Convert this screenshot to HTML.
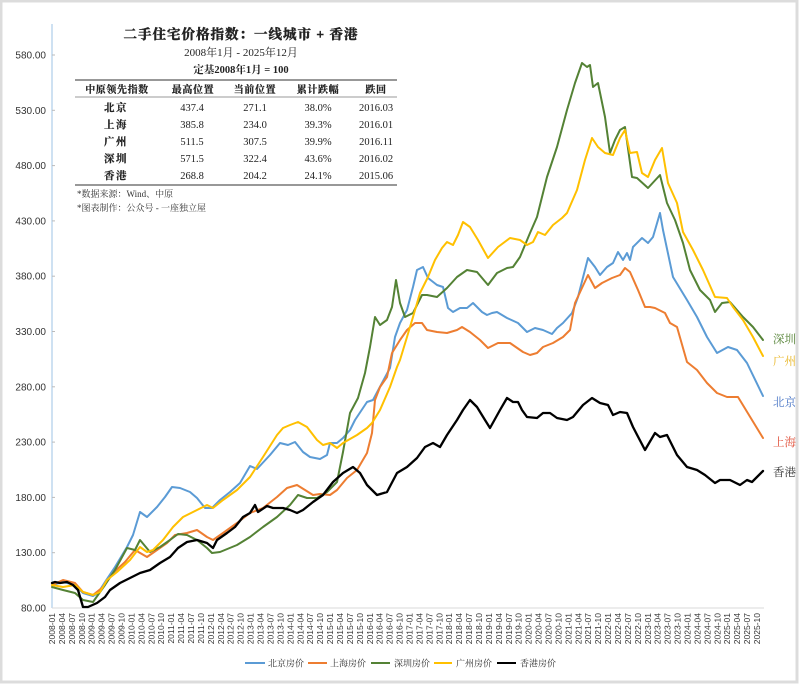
<!DOCTYPE html>
<html><head><meta charset="utf-8"><style>
html,body{margin:0;padding:0;background:#fff;}
svg{display:block;}
.cn{font-family:"Liberation Serif","Noto Serif CJK SC",serif;}
.ax{font-family:"Liberation Sans",sans-serif;font-size:10px;fill:#333;}
.xl{font-family:"Liberation Sans",sans-serif;font-size:8.5px;fill:#333;}
</style></head><body>
<svg width="799" height="684" viewBox="0 0 799 684" xmlns="http://www.w3.org/2000/svg">
<rect x="0" y="0" width="799" height="684" fill="#fff"/>
<rect x="1" y="1" width="796" height="681" fill="none" stroke="#dcdcdc" stroke-width="3"/>

<!-- y axis -->
<line x1="52" y1="24" x2="52" y2="608" stroke="#9dc3e6" stroke-width="1"/>
<g stroke="#bbb" stroke-width="1">
<line x1="52" y1="55" x2="55" y2="55"/><line x1="52" y1="110.3" x2="55" y2="110.3"/><line x1="52" y1="165.6" x2="55" y2="165.6"/><line x1="52" y1="220.9" x2="55" y2="220.9"/><line x1="52" y1="276.2" x2="55" y2="276.2"/><line x1="52" y1="331.5" x2="55" y2="331.5"/><line x1="52" y1="386.8" x2="55" y2="386.8"/><line x1="52" y1="442.1" x2="55" y2="442.1"/><line x1="52" y1="497.4" x2="55" y2="497.4"/><line x1="52" y1="552.7" x2="55" y2="552.7"/>
</g>
<g class="ax" text-anchor="end">
<text x="46" y="58.5">580.00</text>
<text x="46" y="113.8">530.00</text>
<text x="46" y="169.1">480.00</text>
<text x="46" y="224.4">430.00</text>
<text x="46" y="279.7">380.00</text>
<text x="46" y="335">330.00</text>
<text x="46" y="390.3">280.00</text>
<text x="46" y="445.6">230.00</text>
<text x="46" y="500.9">180.00</text>
<text x="46" y="556.2">130.00</text>
<text x="46" y="611.5">80.00</text>
</g>

<!-- x axis -->
<line x1="52" y1="608" x2="764" y2="608" stroke="#d9d9d9" stroke-width="1"/>

<g class="xl" text-anchor="end">
<text transform="translate(55,613) rotate(-90)">2008-01</text>
<text transform="translate(64.9,613) rotate(-90)">2008-04</text>
<text transform="translate(74.9,613) rotate(-90)">2008-07</text>
<text transform="translate(84.8,613) rotate(-90)">2008-10</text>
<text transform="translate(94.7,613) rotate(-90)">2009-01</text>
<text transform="translate(104.7,613) rotate(-90)">2009-04</text>
<text transform="translate(114.6,613) rotate(-90)">2009-07</text>
<text transform="translate(124.5,613) rotate(-90)">2009-10</text>
<text transform="translate(134.4,613) rotate(-90)">2010-01</text>
<text transform="translate(144.4,613) rotate(-90)">2010-04</text>
<text transform="translate(154.3,613) rotate(-90)">2010-07</text>
<text transform="translate(164.2,613) rotate(-90)">2010-10</text>
<text transform="translate(174.2,613) rotate(-90)">2011-01</text>
<text transform="translate(184.1,613) rotate(-90)">2011-04</text>
<text transform="translate(194,613) rotate(-90)">2011-07</text>
<text transform="translate(204,613) rotate(-90)">2011-10</text>
<text transform="translate(213.9,613) rotate(-90)">2012-01</text>
<text transform="translate(223.8,613) rotate(-90)">2012-04</text>
<text transform="translate(233.7,613) rotate(-90)">2012-07</text>
<text transform="translate(243.7,613) rotate(-90)">2012-10</text>
<text transform="translate(253.6,613) rotate(-90)">2013-01</text>
<text transform="translate(263.5,613) rotate(-90)">2013-04</text>
<text transform="translate(273.5,613) rotate(-90)">2013-07</text>
<text transform="translate(283.4,613) rotate(-90)">2013-10</text>
<text transform="translate(293.3,613) rotate(-90)">2014-01</text>
<text transform="translate(303.3,613) rotate(-90)">2014-04</text>
<text transform="translate(313.2,613) rotate(-90)">2014-07</text>
<text transform="translate(323.1,613) rotate(-90)">2014-10</text>
<text transform="translate(333,613) rotate(-90)">2015-01</text>
<text transform="translate(343,613) rotate(-90)">2015-04</text>
<text transform="translate(352.9,613) rotate(-90)">2015-07</text>
<text transform="translate(362.8,613) rotate(-90)">2015-10</text>
<text transform="translate(372.8,613) rotate(-90)">2016-01</text>
<text transform="translate(382.7,613) rotate(-90)">2016-04</text>
<text transform="translate(392.6,613) rotate(-90)">2016-07</text>
<text transform="translate(402.6,613) rotate(-90)">2016-10</text>
<text transform="translate(412.5,613) rotate(-90)">2017-01</text>
<text transform="translate(422.4,613) rotate(-90)">2017-04</text>
<text transform="translate(432.3,613) rotate(-90)">2017-07</text>
<text transform="translate(442.3,613) rotate(-90)">2017-10</text>
<text transform="translate(452.2,613) rotate(-90)">2018-01</text>
<text transform="translate(462.1,613) rotate(-90)">2018-04</text>
<text transform="translate(472.1,613) rotate(-90)">2018-07</text>
<text transform="translate(482,613) rotate(-90)">2018-10</text>
<text transform="translate(491.9,613) rotate(-90)">2019-01</text>
<text transform="translate(501.9,613) rotate(-90)">2019-04</text>
<text transform="translate(511.8,613) rotate(-90)">2019-07</text>
<text transform="translate(521.7,613) rotate(-90)">2019-10</text>
<text transform="translate(531.6,613) rotate(-90)">2020-01</text>
<text transform="translate(541.6,613) rotate(-90)">2020-04</text>
<text transform="translate(551.5,613) rotate(-90)">2020-07</text>
<text transform="translate(561.4,613) rotate(-90)">2020-10</text>
<text transform="translate(571.4,613) rotate(-90)">2021-01</text>
<text transform="translate(581.3,613) rotate(-90)">2021-04</text>
<text transform="translate(591.2,613) rotate(-90)">2021-07</text>
<text transform="translate(601.2,613) rotate(-90)">2021-10</text>
<text transform="translate(611.1,613) rotate(-90)">2022-01</text>
<text transform="translate(621,613) rotate(-90)">2022-04</text>
<text transform="translate(630.9,613) rotate(-90)">2022-07</text>
<text transform="translate(640.9,613) rotate(-90)">2022-10</text>
<text transform="translate(650.8,613) rotate(-90)">2023-01</text>
<text transform="translate(660.7,613) rotate(-90)">2023-04</text>
<text transform="translate(670.7,613) rotate(-90)">2023-07</text>
<text transform="translate(680.6,613) rotate(-90)">2023-10</text>
<text transform="translate(690.5,613) rotate(-90)">2024-01</text>
<text transform="translate(700.5,613) rotate(-90)">2024-04</text>
<text transform="translate(710.4,613) rotate(-90)">2024-07</text>
<text transform="translate(720.3,613) rotate(-90)">2024-10</text>
<text transform="translate(730.2,613) rotate(-90)">2025-01</text>
<text transform="translate(740.2,613) rotate(-90)">2025-04</text>
<text transform="translate(750.1,613) rotate(-90)">2025-07</text>
<text transform="translate(760,613) rotate(-90)">2025-10</text>
</g>

<!-- series -->
<g fill="none" stroke-linejoin="round" stroke-linecap="round">
<polyline stroke="#5b9bd5" stroke-width="2" points="52,585 63,582 75,585 83,593 93,596 98,593 105,582 115,567 127,547 133,535 140,512 147,517 157,507 165,497 172,487 180,488 190,492 197,498 205,508 212,508 220,500 230,492 240,483 250,466 257,469 270,455 280,443 288,445 295,442 303,452 310,457 320,459 327,455 330,443 337,443 343,438 350,430 355,420 367,402 373,400 382,383 390,368 395,337 400,323 407,310 413,287 417,270 423,267 428,278 437,285 443,287 448,308 453,312 460,308 467,308 473,303 482,312 487,315 492,313 497,312 507,318 518,323 527,332 535,328 543,330 552,334 557,328 563,323 572,313 578,297 588,258 595,267 600,275 607,267 613,263 618,252 623,260 627,253 630,260 633,247 642,238 648,243 653,237 660,213 663,230 673,277 687,300 697,317 707,337 717,353 728,347 737,350 747,363 763,396"/>
<polyline stroke="#ed7d31" stroke-width="2" points="52,585 63,580 75,583 83,592 93,595 103,587 113,573 125,562 135,550 147,557 157,550 167,543 175,535 187,533 197,530 207,537 213,540 223,533 237,523 250,513 263,508 277,497 287,488 297,485 305,490 313,495 320,494 330,495 337,490 347,478 357,470 367,453 372,433 375,400 380,387 387,377 392,353 400,340 407,330 415,323 422,323 427,330 437,332 447,333 457,330 462,327 470,332 480,340 488,348 498,343 510,343 523,352 530,355 537,353 543,347 553,343 563,337 570,330 575,303 588,275 595,288 602,283 612,278 620,275 625,268 630,272 638,290 645,307 650,307 655,308 665,313 670,323 677,327 687,362 697,370 707,383 717,393 727,397 733,397 738,397 763,438"/>
<polyline stroke="#548235" stroke-width="2" points="52,587 63,590 75,593 83,600 93,602 105,585 115,570 127,548 135,550 140,540 150,552 160,547 170,540 178,534 187,535 197,540 207,548 212,553 220,552 237,545 250,537 263,527 277,517 290,505 298,495 307,498 317,498 327,492 337,482 343,452 350,413 358,398 365,373 370,347 375,317 380,325 387,320 392,307 396,280 400,303 405,317 413,313 422,295 427,295 437,297 447,288 457,277 467,270 477,272 488,285 497,273 507,268 513,267 520,257 530,233 537,217 547,177 557,147 567,110 575,83 582,63 587,67 590,65 593,87 598,83 605,117 610,153 615,140 620,130 625,127 632,177 637,178 648,188 660,175 667,203 675,220 683,243 690,270 700,290 710,300 715,312 722,303 730,302 743,317 753,327 763,340"/>
<polyline stroke="#ffc000" stroke-width="2" points="52,585 63,587 75,585 83,592 93,595 100,592 107,580 117,572 130,560 140,547 147,552 153,550 163,540 173,527 183,517 197,510 207,505 213,508 223,500 237,490 250,477 263,457 277,435 283,428 290,425 298,422 307,427 317,440 323,445 330,443 337,448 343,443 357,435 367,428 372,423 380,410 390,387 397,367 400,360 407,337 413,317 420,293 428,277 435,260 442,248 447,242 453,245 458,235 463,222 470,227 478,240 488,258 498,247 510,238 520,240 527,245 533,242 538,232 545,235 553,225 562,218 567,213 577,190 585,160 592,138 598,147 605,153 613,155 620,138 625,130 630,153 637,152 642,173 648,177 655,160 662,148 668,183 677,203 683,232 693,250 703,270 715,297 727,298 733,307 743,320 753,337 763,356"/>
<polyline stroke="#000" stroke-width="2.3" points="52,583 55,582 60,583 67,582 73,585 78,590 83,607 88,607 97,603 105,597 110,590 120,583 130,578 140,573 150,570 160,563 170,557 178,548 187,542 197,540 207,543 213,548 217,540 227,533 235,527 243,517 250,513 255,505 258,512 267,506 273,508 283,508 290,510 297,513 303,510 313,502 323,495 333,482 343,473 353,467 360,473 367,485 377,495 387,492 397,473 407,467 417,458 425,447 433,443 440,447 447,435 457,420 463,410 470,400 477,407 485,420 490,428 500,410 507,398 513,402 518,402 522,410 527,417 537,418 543,413 550,413 557,418 567,420 573,417 583,405 592,398 600,403 608,405 613,415 620,412 627,413 633,427 645,450 655,433 660,437 667,435 677,455 687,467 697,470 705,475 715,483 720,480 730,480 740,485 747,480 752,482 763,471"/>
</g>

<!-- end labels -->
<g class="cn" font-size="11.5">
<text x="773" y="343" fill="#548235">深圳</text>
<text x="773" y="365" fill="#e8b420">广州</text>
<text x="773" y="406" fill="#4472c4">北京</text>
<text x="773" y="446" fill="#e0503a">上海</text>
<text x="773" y="476" fill="#333">香港</text>
</g>

<!-- title + table -->
<g class="cn" fill="#222" text-anchor="middle">
<text x="241" y="39" font-size="13.5" font-weight="bold" letter-spacing="1" stroke="#222" stroke-width="0.45">二手住宅价格指数：一线城市 + 香港</text>
<text x="241" y="56" font-size="11">2008年1月 - 2025年12月</text>
<text x="241" y="73" font-size="10.5" font-weight="bold">定基2008年1月 = 100</text>
</g>
<line x1="75" y1="80" x2="397" y2="80" stroke="#777" stroke-width="1.5"/>
<line x1="75" y1="97" x2="397" y2="97" stroke="#999" stroke-width="1"/>
<line x1="75" y1="185" x2="397" y2="185" stroke="#777" stroke-width="1.5"/>
<g class="cn" fill="#222" text-anchor="middle" font-size="10" font-weight="bold" letter-spacing="0.6" stroke="#222" stroke-width="0.2">
<text x="117" y="93">中原领先指数</text>
<text x="193" y="93">最高位置</text>
<text x="255" y="93">当前位置</text>
<text x="318" y="93">累计跌幅</text>
<text x="376" y="93">跌回</text>
</g>
<g class="cn" fill="#222" text-anchor="middle" font-size="10.5">
<text x="116" y="111" letter-spacing="1.5" font-weight="bold" stroke="#222" stroke-width="0.2">北京</text>
<text x="116" y="128" letter-spacing="1.5" font-weight="bold" stroke="#222" stroke-width="0.2">上海</text>
<text x="116" y="145" letter-spacing="1.5" font-weight="bold" stroke="#222" stroke-width="0.2">广州</text>
<text x="116" y="162" letter-spacing="1.5" font-weight="bold" stroke="#222" stroke-width="0.2">深圳</text>
<text x="116" y="179" letter-spacing="1.5" font-weight="bold" stroke="#222" stroke-width="0.2">香港</text>
<text x="192" y="111">437.4</text><text x="255" y="111">271.1</text><text x="318" y="111">38.0%</text><text x="376" y="111">2016.03</text>
<text x="192" y="128">385.8</text><text x="255" y="128">234.0</text><text x="318" y="128">39.3%</text><text x="376" y="128">2016.01</text>
<text x="192" y="145">511.5</text><text x="255" y="145">307.5</text><text x="318" y="145">39.9%</text><text x="376" y="145">2016.11</text>
<text x="192" y="162">571.5</text><text x="255" y="162">322.4</text><text x="318" y="162">43.6%</text><text x="376" y="162">2016.02</text>
<text x="192" y="179">268.8</text><text x="255" y="179">204.2</text><text x="318" y="179">24.1%</text><text x="376" y="179">2015.06</text>
</g>
<g class="cn" fill="#333" font-size="9">
<text x="77" y="197">*数据来源：Wind、中原</text>
<text x="77" y="211">*图表制作：公众号 - 一座独立屋</text>
</g>

<!-- legend -->
<g stroke-width="2">
<line x1="245" y1="663" x2="265" y2="663" stroke="#5b9bd5"/>
<line x1="308" y1="663" x2="327" y2="663" stroke="#ed7d31"/>
<line x1="371" y1="663" x2="390" y2="663" stroke="#548235"/>
<line x1="434" y1="663" x2="452" y2="663" stroke="#ffc000"/>
<line x1="497" y1="663" x2="516" y2="663" stroke="#000"/>
</g>
<g class="cn" fill="#333" font-size="9">
<text x="268" y="666.5">北京房价</text>
<text x="330" y="666.5">上海房价</text>
<text x="394" y="666.5">深圳房价</text>
<text x="456" y="666.5">广州房价</text>
<text x="520" y="666.5">香港房价</text>
</g>
</svg>
</body></html>
